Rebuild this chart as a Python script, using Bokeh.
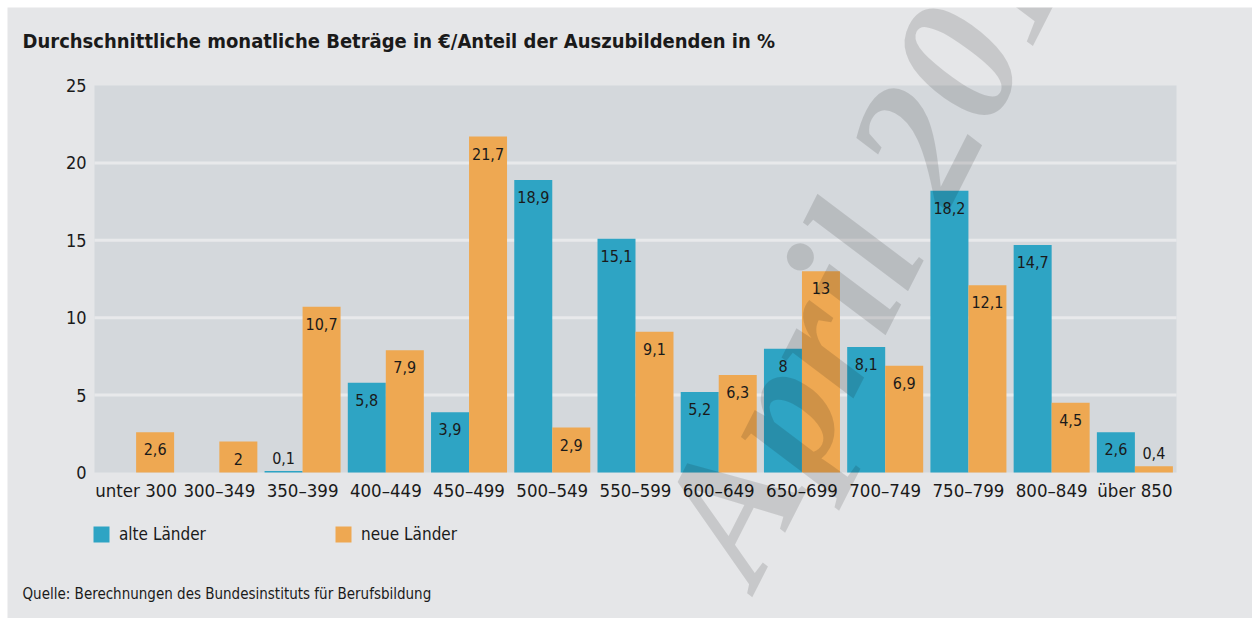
from bokeh.plotting import figure
from bokeh.models import (ColumnDataSource, Label, Legend, LegendItem, Range1d, Spacer)
from bokeh.layouts import column, row
from bokeh.core.properties import value
from bokeh.embed import file_html
from bokeh.resources import INLINE

categories = ["unter 300", "300–349", "350–399", "400–449", "450–499", "500–549",
              "550–599", "600–649", "650–699", "700–749", "750–799", "800–849", "über 850"]
alte = [0, 0, 0.1, 5.8, 3.9, 18.9, 15.1, 5.2, 8, 8.1, 18.2, 14.7, 2.6]
neue = [2.6, 2, 10.7, 7.9, 21.7, 2.9, 9.1, 6.3, 13, 6.9, 12.1, 4.5, 0.4]
y_ticks = [0, 5, 10, 15, 20, 25]
grid_ticks = [5, 10, 15, 20]

title_text = "Durchschnittliche monatliche Beträge in €/Anteil der Auszubildenden in  %"
source_text = "Quelle: Berechnungen des Bundesinstituts für Berufsbildung"
series_names = ["alte Länder", "neue Länder"]
watermark_text = "April 2012"

TEAL = "#2ea4c4"
ORANGE = "#eea852"
BG = "#e5e6e8"
PLOT_BG = "#d4d8dc"
GRID = "#e8e9eb"
TXT = "#1a1a1a"
FONT = "Liberation Sans Narrow, DejaVu Sans Condensed, Open Sans, sans-serif"

# ---- layout (pixels) ----
W, H = 1245, 611
PL, PR, PT, PB = 87, 1169, 78, 465          # plot area box inside the canvas
n = len(categories)
ymax = y_ticks[-1]
px_x = (PR - PL) / n
px_y = (PB - PT) / ymax
x_range = Range1d(-PL / px_x, n + (W - PR) / px_x)
y_range = Range1d(-(H - PB) / px_y, ymax + PT / px_y)


def fmt(v):
    if float(v).is_integer():
        return str(int(v))
    return str(v).replace(".", ",")


def offsets(vals):
    return [17 if v >= 2 else -13 for v in vals]


BW = 0.4566
xc = [i + 0.5 for i in range(n)]
src = ColumnDataSource(dict(
    cat=categories, xc=xc,
    xa=[x - BW / 2 for x in xc], xn=[x + BW / 2 for x in xc],
    alte=alte, neue=neue,
    alte_lbl=[fmt(v) if v > 0 else "" for v in alte],
    neue_lbl=[fmt(v) if v > 0 else "" for v in neue],
    alte_off=offsets(alte), neue_off=offsets(neue),
    zero=[0] * n,
))

p = figure(x_range=x_range, y_range=y_range, width=W, height=H,
           output_backend="svg", toolbar_location=None,
           min_border=0, min_border_left=0, min_border_right=0,
           min_border_top=0, min_border_bottom=0)
p.title.visible = False
p.axis.visible = False
p.grid.visible = False
p.background_fill_color = BG
p.border_fill_color = BG
p.outline_line_color = None

# plot area background + grid lines
p.quad(left=[0], right=[n], bottom=[0], top=[ymax], fill_color=PLOT_BG, line_color=None)
p.segment(x0=[0] * len(grid_ticks), x1=[n] * len(grid_ticks), y0=grid_ticks, y1=grid_ticks,
          line_color=GRID, line_width=3)

r1 = p.vbar(x="xa", top="alte", width=BW, source=src, fill_color=TEAL, line_color=None)
r2 = p.vbar(x="xn", top="neue", width=BW, source=src, fill_color=ORANGE, line_color=None)

# value labels
p.text(x="xa", y="alte", text="alte_lbl", source=src, y_offset="alte_off",
       text_align="center", text_baseline="middle",
       text_font=value(FONT), text_font_size="16px", text_color=TXT)
p.text(x="xn", y="neue", text="neue_lbl", source=src, y_offset="neue_off",
       text_align="center", text_baseline="middle",
       text_font=value(FONT), text_font_size="16px", text_color=TXT)

# y tick labels
p.text(x=[0] * len(y_ticks), y=y_ticks, text=[str(t) for t in y_ticks], x_offset=-8,
       text_align="right", text_baseline="middle",
       text_font=value(FONT), text_font_size="18px", text_color=TXT)
# x category labels
p.text(x="xc", y="zero", text="cat", source=src, y_offset=7,
       text_align="center", text_baseline="top",
       text_font=value(FONT), text_font_size="18.5px", text_color=TXT)

# title / source
p.add_layout(Label(x=15, y=H - 33, x_units="screen", y_units="screen", text=title_text,
                   text_font=FONT, text_font_size="20px", text_font_style="bold",
                   text_color=TXT, text_baseline="middle"))
p.add_layout(Label(x=15, y=H - 586, x_units="screen", y_units="screen", text=source_text,
                   text_font=FONT, text_font_size="15px", text_color=TXT,
                   text_baseline="middle"))

# legends
for rend, name, lx in ((r1, series_names[0], 84), (r2, series_names[1], 326)):
    lg = Legend(items=[LegendItem(label=name, renderers=[rend])], location=(lx, H - 537),
                orientation="horizontal", padding=0, margin=0, border_line_color=None,
                background_fill_alpha=0, glyph_width=20, glyph_height=20, label_height=20,
                label_standoff=8, label_text_font=FONT, label_text_font_size="17px",
                label_text_color=TXT)
    p.add_layout(lg, "center")

# watermark
p.add_layout(Label(x=695, y=57, x_units="screen", y_units="screen", text=watermark_text,
                   angle=1.10, text_font="Liberation Serif", text_font_style="bold italic",
                   text_font_size="180px", text_color="#000000", text_alpha=0.13,
                   text_baseline="alphabetic"))

layout = column(Spacer(height=7), row(Spacer(width=7), p))
open("out.html", "w").write(file_html(layout, INLINE))
